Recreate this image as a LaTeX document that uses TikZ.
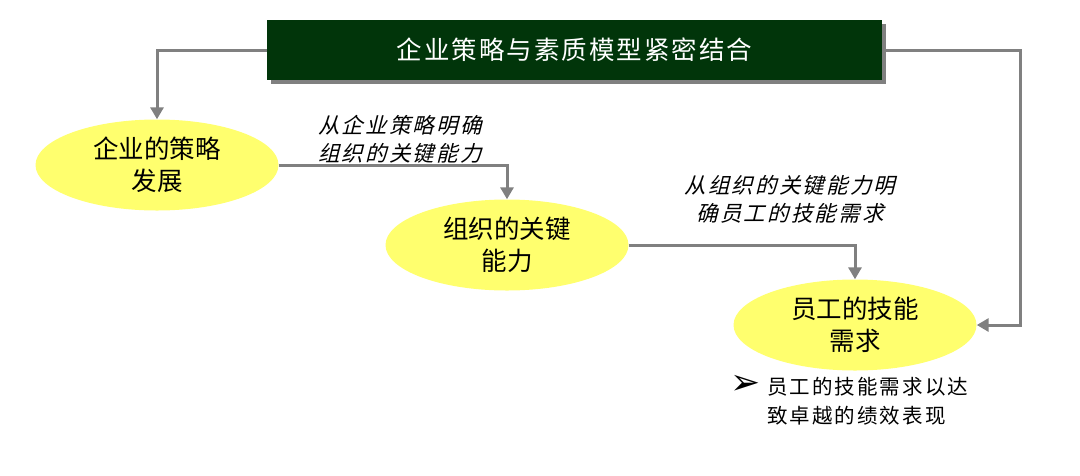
\documentclass[tikz,border=0pt]{standalone}
\usepackage{fontspec}
\setmainfont{Noto Sans CJK SC}
\newfontfamily\cjk{Noto Sans CJK SC}
\newfontfamily\cjktitle[LetterSpace=8]{Noto Sans CJK SC}
\newfontfamily\cjkit[FakeSlant=0.25,LetterSpace=10]{Noto Sans CJK SC}
\newfontfamily\cjksp[LetterSpace=10]{Noto Sans CJK SC}
\newfontfamily\sym{DejaVu Sans}
\usetikzlibrary{shapes.geometric,arrows.meta}
\definecolor{darkgreen}{HTML}{01350A}
\definecolor{ellyellow}{HTML}{FFFF6E}
\definecolor{linegray}{HTML}{808080}
\tikzset{
  titlebox/.style={draw=none, fill=darkgreen, text=white, minimum width=615pt, minimum height=60pt, inner sep=0pt, font=\cjktitle\fontsize{25.5}{30}\selectfont},
  ell/.style={ellipse, fill=ellyellow, draw=none, minimum width=243pt, minimum height=91pt, inner sep=0pt, align=center, font=\cjk\fontsize{25.5}{32}\selectfont},
  conn/.style={draw=linegray, line width=3pt, -{Triangle[length=12pt,width=13pt]}},
  lbl/.style={align=center, inner sep=0pt, font=\cjkit\fontsize{21.5}{28}\selectfont},
  note/.style={align=left, inner sep=0pt, anchor=north west, font=\cjksp\fontsize{20.5}{29}\selectfont}
}
\begin{document}
\begin{tikzpicture}[x=1pt,y=-1pt]
\useasboundingbox (0,0) rectangle (1080,475);
% shadow + title
\fill[linegray] (271,24) rectangle (886,84);
\node[titlebox] (t) at (574.5,50) {企业策略与素质模型紧密结合};
% ellipses
\node[ell] (e1) at (157,165) {企业的策略\\发展};
\node[ell] (e2) at (507,245) {组织的关键\\能力};
\node[ell] (e3) at (855,325) {员工的技能\\需求};
% connectors
\coordinate (r) at (1020,50);
\draw[conn] (t.west) -| (e1.north);
\draw[conn] (t.east) -- (r) |- (e3.east);
\draw[conn] (e1.east) -| (e2.north);
\draw[conn] (e2.east) -| (e3.north);
% labels
\node[lbl] (l1) at (400,139) {从企业策略明确\\组织的关键能力};
\node[lbl] (l2) at (790,199) {从组织的关键能力明\\确员工的技能需求};
% bullet note
\node[inner sep=0pt, font=\sym\fontsize{36}{36}\selectfont] (b) at (746,385) {➢};
\node[note] (n) at (767,377) {员工的技能需求以达\\致卓越的绩效表现};
\end{tikzpicture}
\end{document}
